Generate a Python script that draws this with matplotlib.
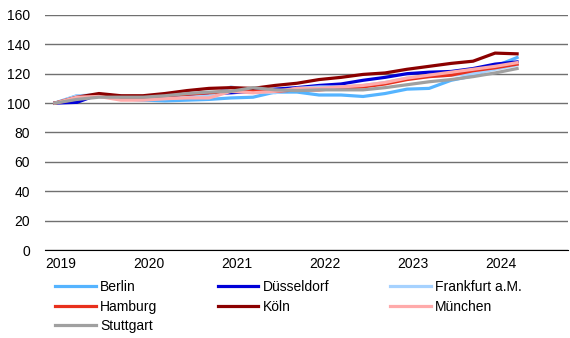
import numpy as np
import matplotlib
matplotlib.use("Agg")
import matplotlib.pyplot as plt

plt.rcParams.update({
    "font.family": ["Liberation Sans", "DejaVu Sans"],
    "font.size": 10,
})

# quarterly index, 2019 Q1 = 100
years = ["2019", "2020", "2021", "2022", "2023", "2024"]
cities = ["Berlin", "Düsseldorf", "Frankfurt a.M.", "Hamburg", "Köln", "München", "Stuttgart"]
colors = ["#55b4ff", "#0000d8", "#a6d2ff", "#e8301c", "#8b0000", "#ffaaaa", "#a0a0a0"]

berlin = [100, 105, 105.5, 103, 102, 101.5, 102, 102.5, 103.5, 104, 107.5,
          107.5, 105.5, 105.5, 104.5, 106.5, 109.5, 110, 115.5, 118.5, 125, 131]
duesseldorf = [100, 100.5, 106, 104.5, 104, 104.5, 105.5, 106.5, 107, 108, 109.5,
               110.5, 112, 113, 115.5, 117.5, 120, 121, 121.5, 123.5, 126.5, 128]
frankfurt = [100, 105, 105, 104, 103, 103, 104, 105, 111, 108, 107,
             110, 111, 111, 112, 114, 117, 118, 119, 120, 123, 126]
hamburg = [100, 103, 105, 104, 104, 105, 106, 107, 108, 108, 108,
           109, 109, 110, 111, 113, 116, 118, 119, 122, 124, 126.5]
koeln = [100, 104, 106.5, 105, 105, 106.5, 108.5, 110, 110.5, 110, 112,
         113.5, 116, 117.5, 119.5, 120.5, 123, 125, 127, 128.5, 134, 133.5]
muenchen = [100, 104, 104.5, 102, 102, 103, 103.5, 103.5, 108, 107, 108,
            110, 110, 111, 112, 114, 117, 119, 121, 123, 125, 127.5]
stuttgart = [100, 102.5, 104, 104, 104, 105, 106.5, 107.5, 108, 110.5, 109,
             108.5, 109, 109, 109, 110.5, 112.5, 114.5, 116, 118, 120.5, 123.5]

series = [berlin, duesseldorf, frankfurt, hamburg, koeln, muenchen, stuttgart]
x = np.arange(len(berlin))

fig = plt.figure(figsize=(5.7, 3.38), dpi=100)
ax = fig.add_axes([0.079, 0.26, 0.917, 0.696])

lines = []
for name, vals, c in zip(cities, series, colors):
    ln, = ax.plot(x, vals, color=c, lw=2.3, label=name, solid_joinstyle="miter")
    lines.append(ln)

ax.set_ylim(0, 160)
ax.set_yticks(np.arange(0, 161, 20))
ax.set_xlim(-0.45, 23.3)
ax.set_xticks(np.arange(len(years)) * 4 + 0.25)
ax.set_xticklabels(years)
ax.grid(axis="y", color="#707070", lw=1.0)
ax.set_axisbelow(True)
for s in ["left", "right", "top"]:
    ax.spines[s].set_visible(False)
ax.spines["bottom"].set_color("black")
ax.tick_params(length=0, labelsize=10, colors="black")
ax.tick_params(axis="y", pad=11)
ax.tick_params(axis="x", pad=5)

# legend filled column-wise, so reorder to get row-wise reading order
order = [0, 3, 6, 1, 4, 2, 5]
fig.legend([lines[i] for i in order], [cities[i] for i in order],
           ncol=3, loc="upper left", bbox_to_anchor=(0.085, 0.192),
           frameon=False, handlelength=2.9, handletextpad=0.3,
           columnspacing=4.4, labelspacing=0.4, borderpad=0, fontsize=10)

fig.savefig("out.png", dpi=100)
